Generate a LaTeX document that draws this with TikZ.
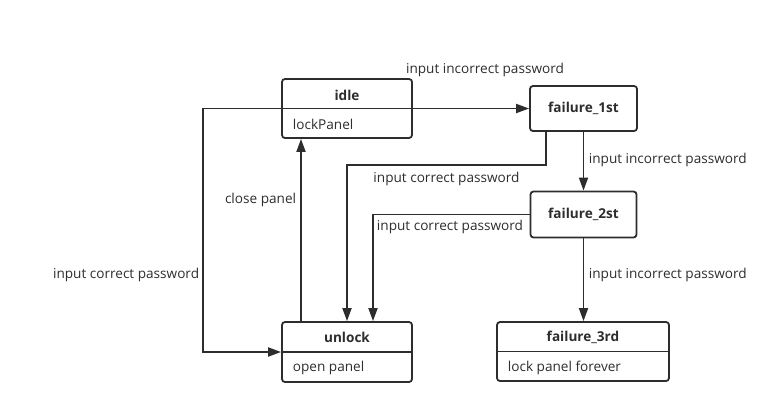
\documentclass[tikz,border=0pt]{standalone}
\usepackage{fontspec}
\setmainfont{Open Sans}
\usetikzlibrary{arrows.meta}
\usetikzlibrary{calc}
\definecolor{ink}{RGB}{45,45,45}

\begin{document}
\begin{tikzpicture}[x=1pt, y=-1pt, line width=1.8pt, draw=ink, text=ink,
	font=\fontsize{13.6}{16}\selectfont,
	state/.style={draw, rounded corners=3pt, inner sep=0pt},
	title/.style={font=\fontsize{13.6}{16}\selectfont\bfseries},
	arr/.style={-{Triangle[length=13pt, width=9pt]}},
	lbl/.style={inner sep=0pt}]
	\useasboundingbox (0,0) rectangle (779,413);
	% states
	\node[state, minimum width=130, minimum height=59] (idle) at (347,108.5) {};
	\node[state, title, minimum width=107, minimum height=45] (f1) at (583.5,108.5) {failure\_1st};
	\node[state, title, minimum width=106, minimum height=46] (f2) at (583.5,214.5) {failure\_2st};
	\node[state, minimum width=130, minimum height=60] (unlock) at (347,352) {};
	\node[state, minimum width=172, minimum height=59] (f3) at (583,351.5) {};
	\draw (idle.west) -- (idle.east);
	\draw (unlock.west) -- (unlock.east);
	\draw (f3.west) -- (f3.east);
	\node[title] (idle-t) at (347,95) {idle};
	\node[lbl, anchor=west] (idle-a) at (292,124.5) {lockPanel};
	\node[title] (unlock-t) at (347,337.5) {unlock};
	\node[lbl, anchor=west] (unlock-a) at (292,367.5) {open panel};
	\node[title] (f3-t) at (583,337.5) {failure\_3rd};
	\node[lbl, anchor=west] (f3-a) at (507,367.5) {lock panel forever};
	% transitions
	\draw[arr] (idle.east) -- (f1.west);
	\draw[arr] (idle.west) -- ++(-78,0) |- (unlock.west);
	\draw[arr] (f1.south) -- (f2.north);
	\draw[arr] ([xshift=-37.5pt]f1.south) -- ++(0,33) -| (unlock.north);
	\draw[arr] (f2.west) -| ([xshift=26pt]unlock.north);
	\draw[arr] (f2.south) -- (f2.south |- f3.north);
	\draw[arr] ([xshift=-46pt]unlock.north) -- ([xshift=-46pt]idle.south);
	% labels
	\node[lbl] (l1) at (485,70) {input incorrect password};
	\node[lbl, anchor=west] (l2) at (588,160) {input incorrect password};
	\node[lbl] (l3) at (446.5,179) {input correct password};
	\node[lbl] (l4) at (450,227) {input correct password};
	\node[lbl, anchor=west] (l5) at (588,275) {input incorrect password};
	\node[lbl, anchor=east] (l6) at (297,200) {close panel};
	\node[lbl, anchor=east] (l7) at (200,275) {input correct password};
\end{tikzpicture}
\end{document}
